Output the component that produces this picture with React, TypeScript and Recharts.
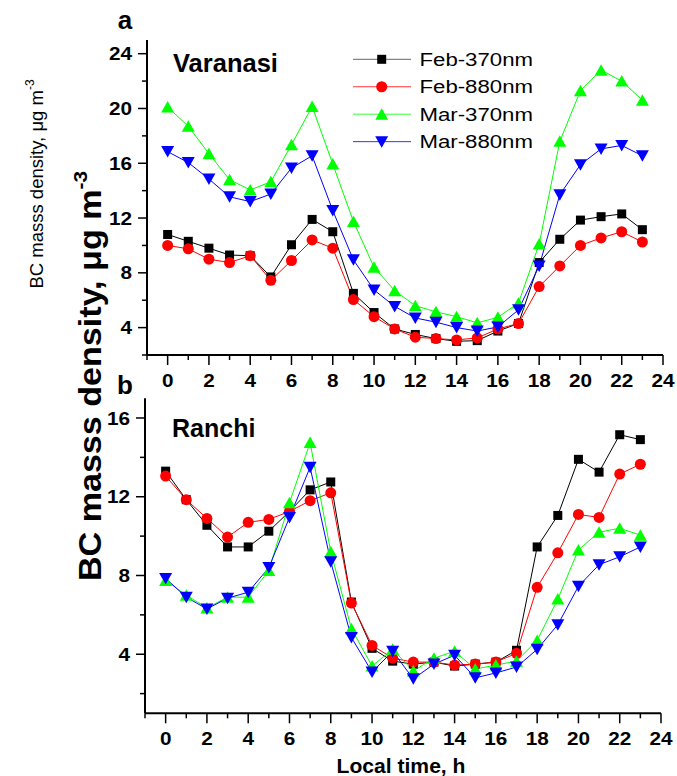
import { LineChart, Line, XAxis, YAxis, Legend } from 'recharts';

const HOURS = [0, 1, 2, 3, 4, 5, 6, 7, 8, 9, 10, 11, 12, 13, 14, 15, 16, 17, 18, 19, 20, 21, 22, 23];

// Varanasi (panel a)
const V_FEB370 = [10.8, 10.3, 9.8, 9.3, 9.25, 7.7, 10.05, 11.9, 11.0, 6.5, 5.1, 3.9, 3.5, 3.2, 3.0, 3.05, 3.75, 4.3, 8.75, 10.45, 11.85, 12.1, 12.3, 11.15];
const V_FEB880 = [10.0, 9.75, 9.0, 8.75, 9.25, 7.45, 8.9, 10.4, 9.8, 6.05, 4.8, 3.9, 3.3, 3.2, 3.1, 3.25, 3.9, 4.3, 7.0, 8.5, 10.0, 10.55, 11.0, 10.25];
const V_MAR370 = [20.1, 18.7, 16.7, 14.8, 14.05, 14.65, 17.35, 20.15, 15.95, 11.75, 8.4, 6.7, 5.6, 5.15, 4.8, 4.35, 4.75, 5.8, 10.1, 17.6, 21.3, 22.8, 22.0, 20.6];
const V_MAR880 = [16.85, 16.05, 14.85, 13.55, 13.2, 13.75, 15.65, 16.55, 12.55, 8.95, 6.75, 5.55, 4.7, 4.4, 4.0, 3.75, 4.05, 5.3, 8.5, 13.7, 15.9, 17.05, 17.3, 16.55];

// Ranchi (panel b)
const R_FEB370 = [13.3, 11.85, 10.55, 9.45, 9.45, 10.25, 11.25, 12.35, 12.75, 6.65, 4.3, 3.65, 3.5, 3.6, 3.4, 3.5, 3.6, 4.2, 9.45, 11.05, 13.9, 13.25, 15.15, 14.9];
const R_FEB880 = [13.05, 11.85, 10.9, 9.95, 10.7, 10.85, 11.25, 11.8, 12.2, 6.6, 4.45, 3.8, 3.6, 3.6, 3.45, 3.5, 3.6, 4.05, 7.4, 9.15, 11.1, 10.95, 13.15, 13.65];
const R_MAR370 = [7.75, 7.0, 6.35, 6.9, 6.9, 8.25, 11.7, 14.75, 9.2, 5.3, 3.4, 4.25, 3.15, 3.8, 4.15, 3.25, 3.45, 3.65, 4.7, 6.8, 9.3, 10.2, 10.4, 10.05];
const R_MAR880 = [7.85, 6.9, 6.3, 6.85, 7.15, 8.4, 10.95, 13.5, 8.7, 4.85, 3.1, 4.15, 2.75, 3.5, 3.95, 2.8, 3.05, 3.35, 4.25, 5.5, 7.45, 8.55, 8.95, 9.45];

const X_TICKS = [-1, 0, 1, 2, 3, 4, 5, 6, 7, 8, 9, 10, 11, 12, 13, 14, 15, 16, 17, 18, 19, 20, 21, 22, 23, 24];
const Y_TICKS_A = [2, 4, 6, 8, 10, 12, 14, 16, 18, 20, 22, 24];
const Y_TICKS_B = [2, 4, 6, 8, 10, 12, 14, 16];

const SERIES = [
  { key: 'feb370', name: 'Feb-370nm', color: '#000000', shape: 'square' },
  { key: 'feb880', name: 'Feb-880nm', color: '#ff0000', shape: 'circle' },
  { key: 'mar370', name: 'Mar-370nm', color: '#00ff00', shape: 'up' },
  { key: 'mar880', name: 'Mar-880nm', color: '#0000ff', shape: 'down' },
];

const FONT = "'Liberation Sans', Arial, sans-serif";

function rows(a: number[], b: number[], c: number[], d: number[]) {
  return HOURS.map((h, i) => ({ h, feb370: a[i], feb880: b[i], mar370: c[i], mar880: d[i] }));
}

const dataA = rows(V_FEB370, V_FEB880, V_MAR370, V_MAR880);
const dataB = rows(R_FEB370, R_FEB880, R_MAR370, R_MAR880);

function Marker({ cx, cy, shape, color }: { cx: number; cy: number; shape: string; color: string }) {
  if (cx == null || cy == null) return null;
  if (shape === 'square') return <rect x={cx - 4.5} y={cy - 4.5} width={9} height={9} fill={color} />;
  if (shape === 'circle') return <circle cx={cx} cy={cy} r={5.5} fill={color} />;
  if (shape === 'up')
    return <polygon points={`${cx},${cy - 6} ${cx + 6.5},${cy + 5.5} ${cx - 6.5},${cy + 5.5}`} fill={color} />;
  return <polygon points={`${cx},${cy + 6} ${cx + 6.5},${cy - 5.5} ${cx - 6.5},${cy - 5.5}`} fill={color} />;
}

function SText({ x, y, size, bold, sx = 1, anchor = 'middle', rot = 0, children }: any) {
  return (
    <text
      transform={`translate(${x},${y}) rotate(${rot}) scale(${sx},1)`}
      fontSize={size}
      fontWeight={bold ? 'bold' : 'normal'}
      fontFamily={FONT}
      textAnchor={anchor}
      fill="#000"
    >
      {children}
    </text>
  );
}

function XTick(props: any) {
  const { x, y, payload } = props;
  const v = payload.value;
  const major = v % 2 === 0;
  return (
    <g>
      <line x1={x} y1={y} x2={x} y2={y + (major ? 10 : 5)} stroke="#000" strokeWidth={1.5} />
      {major && (
        <SText x={x} y={y + 32} size={18.5} bold sx={1.12}>
          {v}
        </SText>
      )}
    </g>
  );
}

function YTick(props: any) {
  const { x, y, payload } = props;
  const v = payload.value;
  const major = v % 4 === 0;
  return (
    <g>
      <line x1={x} y1={y} x2={x - (major ? 9 : 5)} y2={y} stroke="#000" strokeWidth={1.5} />
      {major && (
        <SText x={x - 15} y={y + 6.6} size={18.5} bold sx={1.12} anchor="end">
          {v}
        </SText>
      )}
    </g>
  );
}

function LegendBox() {
  return (
    <svg width={220} height={120}>
      {SERIES.map((s, i) => {
        const cy = 14.3 + i * 27.45;
        return (
          <g key={s.key}>
            <line x1={8} y1={cy} x2={66} y2={cy} stroke={s.color} strokeWidth={1} opacity={s.key === 'feb370' ? 0.6 : 0.8} />
            <Marker cx={36.7} cy={cy} shape={s.shape} color={s.color} />
            <SText x={74.5} y={cy + 6.6} size={18.5} sx={1.2} anchor="start">
              {s.name}
            </SText>
          </g>
        );
      })}
    </svg>
  );
}

function Panel({ data, yDomain, yTicks, yWidth, right, top, height, legend }: any) {
  return (
    <LineChart width={677} height={height} data={data} margin={{ top, right, left: 0, bottom: 0 }}>
      <XAxis
        dataKey="h"
        type="number"
        domain={[-1, 24]}
        ticks={X_TICKS}
        interval={0}
        height={40}
        tickSize={0}
        tickMargin={0}
        tickLine={false}
        tick={<XTick />}
        axisLine={{ stroke: '#000', strokeWidth: 2 }}
      />
      <YAxis
        type="number"
        domain={yDomain}
        ticks={yTicks}
        interval={0}
        width={yWidth}
        tickSize={0}
        tickMargin={0}
        tickLine={false}
        tick={<YTick />}
        axisLine={{ stroke: '#000', strokeWidth: 2 }}
        allowDataOverflow
      />
      {legend && (
        <Legend
          layout="vertical"
          align="center"
          verticalAlign="middle"
          content={() => <LegendBox />}
          wrapperStyle={{ position: 'absolute', left: 345, top: 45, width: 220, height: 120 }}
        />
      )}
      {SERIES.map((s) => (
        <Line
          key={s.key}
          dataKey={s.key}
          name={s.name}
          type="linear"
          stroke={s.color}
          strokeWidth={1}
          dot={(p: any) => <Marker key={`${s.key}-${p.index}`} cx={p.cx} cy={p.cy} shape={s.shape} color={s.color} />}
          activeDot={false}
          isAnimationActive={false}
        />
      ))}
    </LineChart>
  );
}

export default function App() {
  return (
    <div style={{ position: 'absolute', left: 0, top: 0, width: 677, height: 776, background: '#fff', overflow: 'hidden' }}>
      <div style={{ position: 'absolute', left: 0, top: 0 }}>
        <Panel data={dataA} yDomain={[2, 25]} yTicks={Y_TICKS_A} yWidth={147} right={14} top={40} height={395} legend />
      </div>
      <div style={{ position: 'absolute', left: 0, top: 360 }}>
        <Panel data={dataB} yDomain={[1, 17]} yTicks={Y_TICKS_B} yWidth={145} right={16} top={38.3} height={393.3} />
      </div>
      <svg width={677} height={776} style={{ position: 'absolute', left: 0, top: 0, pointerEvents: 'none' }}>
        <SText x={125} y={28.5} size={26} bold>a</SText>
        <SText x={125} y={393.5} size={26} bold>b</SText>
        <SText x={173} y={71.5} size={25.5} bold anchor="start">Varanasi</SText>
        <SText x={172} y={436.5} size={25} bold anchor="start">Ranchi</SText>
        <SText x={401} y={773} size={20.5} bold sx={1.03}>Local time, h</SText>
        <SText x={43} y={184} size={18.5} rot={-90}>
          BC masss density, μg m<tspan dy={-9} fontSize={12}>-3</tspan>
        </SText>
        <SText x={101} y={376} size={31} bold sx={1.1} rot={-90}>
          BC masss density, μg m<tspan dy={-14} fontSize={19}>-3</tspan>
        </SText>
      </svg>
    </div>
  );
}
